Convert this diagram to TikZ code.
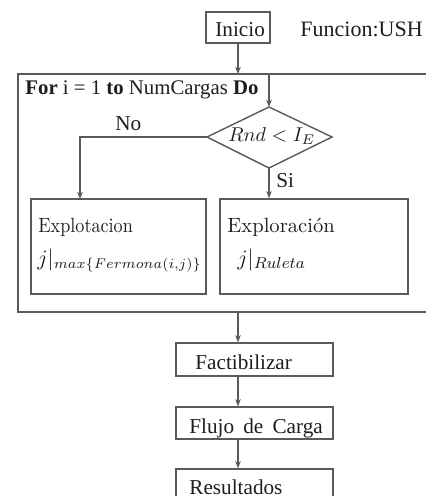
\documentclass[tikz,border=0pt]{standalone}
\usepackage{fontspec}
\usepackage{graphicx}
\newfontfamily\tms{Liberation Serif}
\usetikzlibrary{arrows.meta}
\definecolor{linegray}{HTML}{5A5A5A}
\definecolor{ink}{HTML}{1E1E1E}
\begin{document}
\begin{tikzpicture}[x=0.5pt,y=-0.5pt,
  line/.style={draw=linegray, line width=0.7pt},
  arr/.style={line, -{Stealth[length=3.6pt,width=2.8pt]}},
  box/.style={line, rectangle, inner sep=0pt},
  tx/.style={font=\tms\fontsize{10.6}{12}\selectfont, text=ink, inner sep=0pt},
  lm/.style={font=\fontsize{10.3}{12}\selectfont, text=ink, inner sep=0pt},
]
\useasboundingbox (0,0) rectangle (426,496);
\fill[white] (0,0) rectangle (426,496);

% start
\node[box, minimum width=32pt, minimum height=15.5pt] (ini) at (238,27.5) {};
\node[tx, anchor=base west] (initx) at (215,37) {Inicio};
\node[tx, font=\tms\fontsize{11}{12}\selectfont, anchor=base west] (fun) at (300,37) {Funcion:USH};

% loop frame
\coordinate (lt) at (238,74);
\coordinate (ld) at (269,74);
\coordinate (lb) at (238,312);
\draw[line] (440,74) -- (18,74) -- (18,312) -- (440,312);
\node[tx, font=\tms\fontsize{10.4}{12}\selectfont, anchor=base west] (for) at (25,95) {\textbf{For} i = 1 \textbf{to} NumCargas \textbf{Do}};

% decision
\coordinate (dT) at (269,107);
\coordinate (dL) at (207,137);
\coordinate (dR) at (332,137);
\coordinate (dB) at (269,168);
\draw[line] (dT) -- (dR) -- (dB) -- (dL) -- cycle;
\node[lm, font=\fontsize{10}{12}\selectfont, anchor=base west] (cond) at (228,142) {$Rnd<I_E$};

% branches
\node[box, minimum width=87.5pt, minimum height=47.5pt] (expt) at (118.5,246.5) {};
\node[lm, anchor=base west] (expttx) at (38,233) {\scalebox{0.88}[1]{Explotacion}};
\node[lm, font=\fontsize{10.6}{12}\selectfont, anchor=base west] (exptf) at (37,265) {$j|_{max\{Fermona(i,j)\}}$};

\node[box, minimum width=94pt, minimum height=47.5pt] (expr) at (314,246.5) {};
\node[lm, anchor=base west] (exprtx) at (227,232) {Exploración};
\node[lm, font=\fontsize{11.2}{12}\selectfont, anchor=base west] (exprf) at (237,265) {$j|_{Ruleta}$};

\coordinate (noIn) at (80,199);
\draw[arr] (ini.south) -- (lt);
\draw[arr] (ld) -- (dT);
\draw[arr] (dL) -| (noIn);
\draw[arr] (dB) -- (dB |- expr.north);
\node[tx, anchor=base west] (no) at (115,131) {No};
\node[tx, anchor=base west] (si) at (276,188) {Si};

% sequence
\node[box, minimum width=78.5pt, minimum height=16.5pt] (fac) at (254.5,359.5) {};
\node[tx, anchor=base west] (factx) at (195,369) {Factibilizar};
\node[box, minimum width=78.5pt, minimum height=16pt] (flu) at (254.5,423) {};
\node[tx, anchor=base west] (flutx) at (189,433) {Flujo\hspace{4.6pt}de\hspace{4.6pt}Carga};
\node[box, minimum width=78.5pt, minimum height=16.5pt] (res) at (254.5,485.5) {};
\node[tx, anchor=base west] (restx) at (189,494) {Resultados};

\draw[arr] (lb) -- (lb |- fac.north);
\draw[arr] (fac.south -| lb) -- (flu.north -| lb);
\draw[arr] (flu.south -| lb) -- (res.north -| lb);
\end{tikzpicture}
\end{document}
